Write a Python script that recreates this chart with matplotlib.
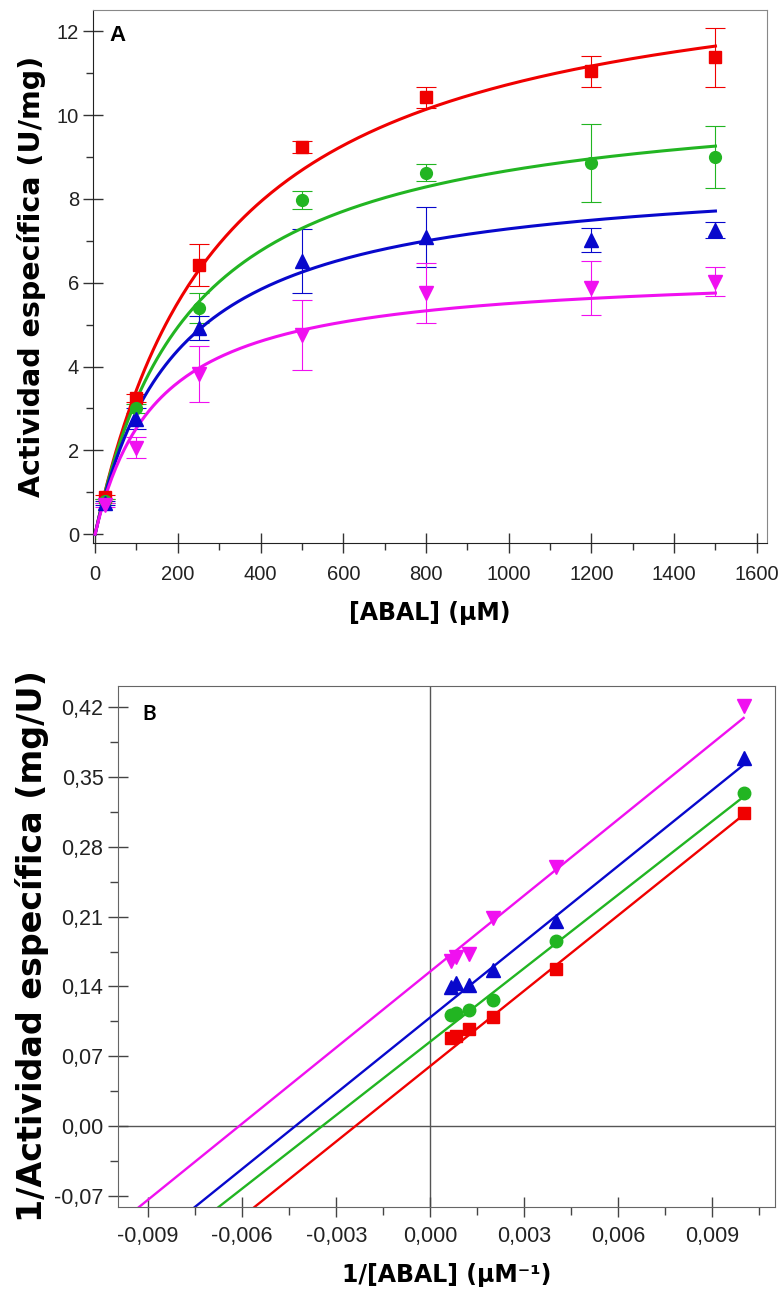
import numpy as np
import matplotlib
matplotlib.use('Agg')
import matplotlib.pyplot as plt
from matplotlib.ticker import MultipleLocator, FuncFormatter

plt.rcParams['axes.unicode_minus'] = False

# ---- panel A: actividad especifica vs [ABAL]
abal = [25, 100, 250, 500, 800, 1200, 1500]

red_y = [0.88, 3.25, 6.42, 9.24, 10.43, 11.05, 11.38]
red_err = [0.05, 0.10, 0.50, 0.15, 0.25, 0.37, 0.71]
green_y = [0.80, 3.00, 5.39, 7.97, 8.63, 8.85, 9.00]
green_err = [0.05, 0.10, 0.36, 0.22, 0.20, 0.93, 0.75]
blue_y = [0.74, 2.75, 4.92, 6.52, 7.09, 7.02, 7.26]
blue_err = [0.05, 0.25, 0.28, 0.76, 0.72, 0.28, 0.18]
mag_y = [0.70, 2.06, 3.82, 4.76, 5.75, 5.88, 6.03]
mag_err = [0.05, 0.25, 0.67, 0.84, 0.72, 0.65, 0.34]

# ajuste Michaelis-Menten (Vmax, Km) de cada serie
vmax = [14.04, 10.70, 8.73, 6.33]
km = [308, 233, 198, 150]

# ---- panel B: Lineweaver-Burk
inv_abal = [1 / 1500, 1 / 1200, 1 / 800, 1 / 500, 1 / 250, 1 / 100]
red_inv = [0.088, 0.090, 0.097, 0.109, 0.157, 0.314]
green_inv = [0.111, 0.113, 0.116, 0.126, 0.186, 0.334]
blue_inv = [0.139, 0.143, 0.141, 0.156, 0.206, 0.369]
mag_inv = [0.165, 0.169, 0.173, 0.209, 0.260, 0.421]

# rectas ajustadas (pendiente, ordenada)
slopes = [25.18, 24.54, 25.3, 25.4]
intercepts = [0.0602, 0.0847, 0.109, 0.155]

colors = ['#f00000', '#22b522', '#0808cc', '#f010f0']
markers = ['s', 'o', '^', 'v']
msizes = [8.5, 8.5, 9.5, 9.5]

fig = plt.figure(figsize=(7.82, 12.99), dpi=100)

tickfont = 'Liberation Sans'
labfont = 'DejaVu Sans'

# ================= A =================
axA = fig.add_axes([0.119, 0.582, 0.862, 0.410])
series_A = [(red_y, red_err), (green_y, green_err), (blue_y, blue_err), (mag_y, mag_err)]
xs = np.linspace(0, 1500, 300)
for i, (yy, ee) in enumerate(series_A):
    axA.errorbar(abal, yy, yerr=ee, fmt='none', ecolor=colors[i], elinewidth=0.8,
                 capsize=7, capthick=0.8, zorder=2)
    axA.plot(xs, vmax[i] * xs / (km[i] + xs), color=colors[i], lw=2.2, zorder=3)
    axA.plot(abal, yy, ls='none', marker=markers[i], ms=msizes[i], color=colors[i], zorder=4)

axA.set_xlim(-5, 1625)
axA.set_ylim(-0.21, 12.5)
axA.xaxis.set_major_locator(MultipleLocator(200))
axA.xaxis.set_minor_locator(MultipleLocator(100))
axA.yaxis.set_major_locator(MultipleLocator(2))
axA.yaxis.set_minor_locator(MultipleLocator(1))
axA.tick_params(which='major', direction='inout', length=14, width=1, labelsize=14.5, color='#333')
axA.tick_params(which='minor', direction='out', length=5, width=1, color='#333')
axA.tick_params(axis='x', which='major', pad=9)
axA.tick_params(axis='y', which='major', pad=3)
for lab in axA.get_xticklabels() + axA.get_yticklabels():
    lab.set_fontfamily(tickfont)
    lab.set_color('#222')
axA.spines['top'].set_color('#888')
axA.spines['right'].set_color('#888')
axA.spines['left'].set_color('#222')
axA.spines['bottom'].set_color('#222')
axA.set_xlabel('[ABAL] (μM)', fontsize=17, fontweight='bold', family=labfont, labelpad=12)
axA.set_ylabel('Actividad específica (U/mg)', fontsize=20.5, fontweight='bold',
               family=labfont, labelpad=8)
axA.text(0.025, 0.972, 'A', transform=axA.transAxes, fontsize=16, fontweight='bold',
         family=tickfont, va='top', ha='left')

# ================= B =================
axB = fig.add_axes([0.151, 0.0708, 0.840, 0.4011])
series_B = [red_inv, green_inv, blue_inv, mag_inv]
axB.axhline(0, color='#555', lw=1, zorder=1)
axB.axvline(0, color='#555', lw=1, zorder=1)
xl = np.array([-0.0100, 0.0100])
for i, yy in enumerate(series_B):
    axB.plot(xl, slopes[i] * xl + intercepts[i], color=colors[i], lw=1.7, zorder=2)
    axB.plot(inv_abal, yy, ls='none', marker=markers[i], ms=msizes[i] + 0.5,
             color=colors[i], zorder=3)

axB.set_xlim(-0.00996, 0.0110)
axB.set_ylim(-0.081, 0.441)
axB.xaxis.set_major_locator(MultipleLocator(0.003))
axB.xaxis.set_minor_locator(MultipleLocator(0.0015))
axB.yaxis.set_major_locator(MultipleLocator(0.07))
axB.yaxis.set_minor_locator(MultipleLocator(0.035))
axB.xaxis.set_major_formatter(FuncFormatter(lambda v, p: f"{round(v, 6) + 0:.3f}".replace('.', ',')))
axB.yaxis.set_major_formatter(FuncFormatter(lambda v, p: f"{round(v, 6) + 0:.2f}".replace('.', ',')))
axB.tick_params(which='major', direction='inout', length=15, width=1, labelsize=15.5, color='#444')
axB.tick_params(which='minor', direction='out', length=6, width=1, color='#444')
axB.tick_params(axis='x', which='major', pad=6)
axB.tick_params(axis='y', which='major', pad=3)
for lab in axB.get_xticklabels() + axB.get_yticklabels():
    lab.set_fontfamily(tickfont)
    lab.set_color('#222')
for s in axB.spines.values():
    s.set_color('#666')
axB.set_xlabel('1/[ABAL] (μM⁻¹)', fontsize=17, fontweight='bold', family=labfont, labelpad=12)
axB.set_ylabel('1/Actividad específica (mg/U)', fontsize=24, fontweight='bold',
               family=labfont, labelpad=4)
axB.text(0.037, 0.966, 'B', transform=axB.transAxes, fontsize=15, fontweight='bold',
         family='Lato', va='top', ha='left')

fig.savefig('out.png', dpi=100)
